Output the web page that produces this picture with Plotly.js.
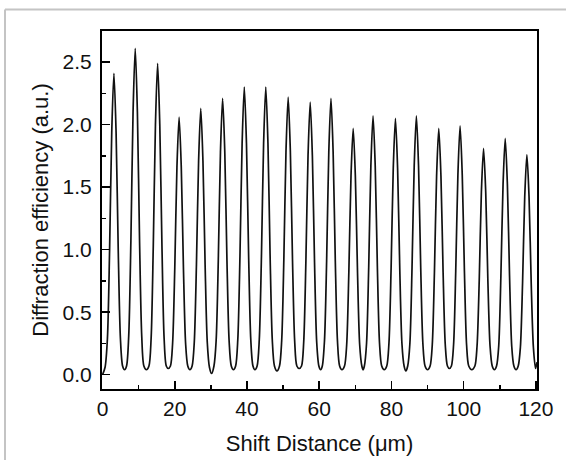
<!DOCTYPE html>
<html>
<head>
<meta charset="utf-8">
<script src="https://cdn.plot.ly/plotly-3.0.1.min.js"></script>
<style>
  html, body { margin: 0; padding: 0; background: #ffffff; }
  #chart { width: 566px; height: 460px; }
</style>
</head>
<body>
<div id="chart"></div>
<script>
const shiftDistance = [
  0, 0.7, 1.35, 1.95, 2.55, 3.15, 3.75, 4.35, 4.95, 5.55, 6.1,
  6.65, 7.25, 7.85, 8.45, 9.05, 9.65, 10.25, 10.85, 11.45, 12.15,
  12.85, 13.45, 14.05, 14.65, 15.25, 15.85, 16.45, 17.05, 17.65, 18.2,
  18.8, 19.4, 20.0, 20.6, 21.2, 21.8, 22.4, 23.0, 23.6, 24.2,
  24.8, 25.4, 26.0, 26.6, 27.2, 27.8, 28.4, 29.0, 29.6, 30.2,
  30.85, 31.45, 32.05, 32.65, 33.25, 33.85, 34.45, 35.05, 35.65, 36.25,
  36.85, 37.45, 38.05, 38.65, 39.25, 39.85, 40.45, 41.05, 41.65, 42.2,
  42.8, 43.4, 44.0, 44.6, 45.2, 45.8, 46.4, 47.0, 47.6, 48.3,
  49.0, 49.6, 50.2, 50.8, 51.4, 52.0, 52.6, 53.2, 53.8, 54.45,
  55.1, 55.7, 56.3, 56.9, 57.5, 58.1, 58.7, 59.3, 59.9, 60.4,
  60.85, 61.45, 62.05, 62.65, 63.25, 63.85, 64.45, 65.05, 65.65, 66.3,
  67.0, 67.6, 68.2, 68.8, 69.4, 70.0, 70.6, 71.2, 71.8, 72.15,
  72.5, 73.1, 73.7, 74.3, 74.9, 75.5, 76.1, 76.7, 77.3, 78.0,
  78.7, 79.3, 79.9, 80.5, 81.1, 81.7, 82.3, 82.9, 83.5, 84.0,
  84.5, 85.1, 85.7, 86.3, 86.9, 87.5, 88.1, 88.7, 89.3, 90.0,
  90.7, 91.3, 91.9, 92.5, 93.1, 93.7, 94.3, 94.9, 95.5, 96.05,
  96.6, 97.2, 97.8, 98.4, 99.0, 99.6, 100.2, 100.8, 101.4, 102.25,
  103.1, 103.7, 104.3, 104.9, 105.5, 106.1, 106.7, 107.3, 107.9, 108.5,
  109.1, 109.7, 110.3, 110.9, 111.5, 112.1, 112.7, 113.3, 113.9, 114.5,
  115.1, 115.7, 116.3, 116.9, 117.5, 118.1, 118.7, 119.3, 119.9, 120.3
];

// Diffraction efficiency (a.u.) at those points
const efficiency = [
  0.00, 0.06, 0.29, 0.99, 1.94, 2.41, 1.94, 0.99, 0.29, 0.07, 0.04,
  0.07, 0.31, 1.07, 2.10, 2.61, 2.10, 1.07, 0.31, 0.07, 0.04,
  0.07, 0.29, 1.03, 2.00, 2.49, 2.00, 1.03, 0.29, 0.07, 0.05,
  0.07, 0.25, 0.85, 1.66, 2.06, 1.66, 0.85, 0.25, 0.07, 0.04,
  0.07, 0.26, 0.88, 1.71, 2.13, 1.71, 0.88, 0.26, 0.06, 0.01,
  0.07, 0.27, 0.91, 1.78, 2.21, 1.78, 0.91, 0.27, 0.07, 0.04,
  0.07, 0.28, 0.95, 1.85, 2.30, 1.85, 0.95, 0.28, 0.07, 0.04,
  0.07, 0.28, 0.95, 1.85, 2.30, 1.85, 0.95, 0.28, 0.07, 0.03,
  0.07, 0.27, 0.92, 1.79, 2.22, 1.79, 0.92, 0.27, 0.07, 0.05,
  0.07, 0.26, 0.90, 1.75, 2.18, 1.75, 0.90, 0.26, 0.07, 0.04,
  0.07, 0.27, 0.91, 1.78, 2.21, 1.78, 0.91, 0.27, 0.07, 0.04,
  0.07, 0.24, 0.82, 1.59, 1.97, 1.59, 0.82, 0.24, 0.07, 0.04,
  0.07, 0.25, 0.86, 1.67, 2.07, 1.67, 0.86, 0.25, 0.07, 0.04,
  0.07, 0.25, 0.85, 1.65, 2.05, 1.65, 0.85, 0.25, 0.07, 0.03,
  0.07, 0.25, 0.86, 1.67, 2.07, 1.67, 0.86, 0.25, 0.07, 0.04,
  0.07, 0.24, 0.82, 1.59, 1.97, 1.59, 0.82, 0.24, 0.07, 0.05,
  0.07, 0.24, 0.83, 1.60, 1.99, 1.60, 0.83, 0.24, 0.07, 0.04,
  0.07, 0.23, 0.75, 1.46, 1.81, 1.46, 0.75, 0.23, 0.07, 0.04,
  0.07, 0.23, 0.79, 1.52, 1.89, 1.52, 0.79, 0.23, 0.07, 0.04,
  0.07, 0.22, 0.73, 1.42, 1.76, 1.42, 0.73, 0.22, 0.05, 0.10
];

const xTitle = 'Shift Distance (\u03bcm)';
const yTitle = 'Diffraction efficiency (a.u.)';

const trace = {
  x: shiftDistance,
  y: efficiency,
  type: 'scatter',
  mode: 'lines',
  line: { color: '#111111', width: 1.7, shape: 'spline', smoothing: 0.8 },
  hoverinfo: 'skip',
  showlegend: false
};

const axisCommon = {
  showline: true,
  linewidth: 2,
  linecolor: '#000000',
  mirror: true,
  showgrid: false,
  zeroline: false,
  ticks: 'inside',
  ticklen: 8,
  tickwidth: 1.5,
  tickcolor: '#000000',
  tickfont: { size: 21, color: '#111111' }
};

const layout = {
  width: 566,
  height: 460,
  margin: { l: 102, r: 29, t: 31, b: 71 },
  paper_bgcolor: '#ffffff',
  plot_bgcolor: '#ffffff',
  font: { family: 'Liberation Sans, Arial, sans-serif', size: 21, color: '#111111' },
  showlegend: false,
  xaxis: Object.assign({}, axisCommon, {
    range: [-0.15, 120.3],
    tickmode: 'linear',
    tick0: 0,
    dtick: 20,
    ticklabelstandoff: 0,
    minor: { dtick: 10, ticks: 'inside', ticklen: 4, tickwidth: 1.5, tickcolor: '#000000' },
    title: { text: xTitle, font: { size: 22, color: '#111111' }, standoff: 16 }
  }),
  yaxis: Object.assign({}, axisCommon, {
    range: [-0.114, 2.748],
    tickmode: 'linear',
    tick0: 0,
    dtick: 0.5,
    tickformat: '.1f',
    ticklabelstandoff: 4,
    minor: { dtick: 0.25, ticks: 'inside', ticklen: 4, tickwidth: 1.5, tickcolor: '#000000' },
    title: { text: yTitle, font: { size: 22, color: '#111111' }, standoff: 8 }
  }),
  shapes: [
    { type: 'line', xref: 'paper', yref: 'paper', x0: -0.223, x1: 1.07, y0: 1.06, y1: 1.06,
      line: { color: '#c4c4c4', width: 2 } },
    { type: 'line', xref: 'paper', yref: 'paper', x0: -0.223, x1: -0.223, y0: 1.06, y1: -0.2,
      line: { color: '#c4c4c4', width: 2 } }
  ]
};

Plotly.newPlot('chart', [trace], layout, { displayModeBar: false, staticPlot: true });
</script>
</body>
</html>
